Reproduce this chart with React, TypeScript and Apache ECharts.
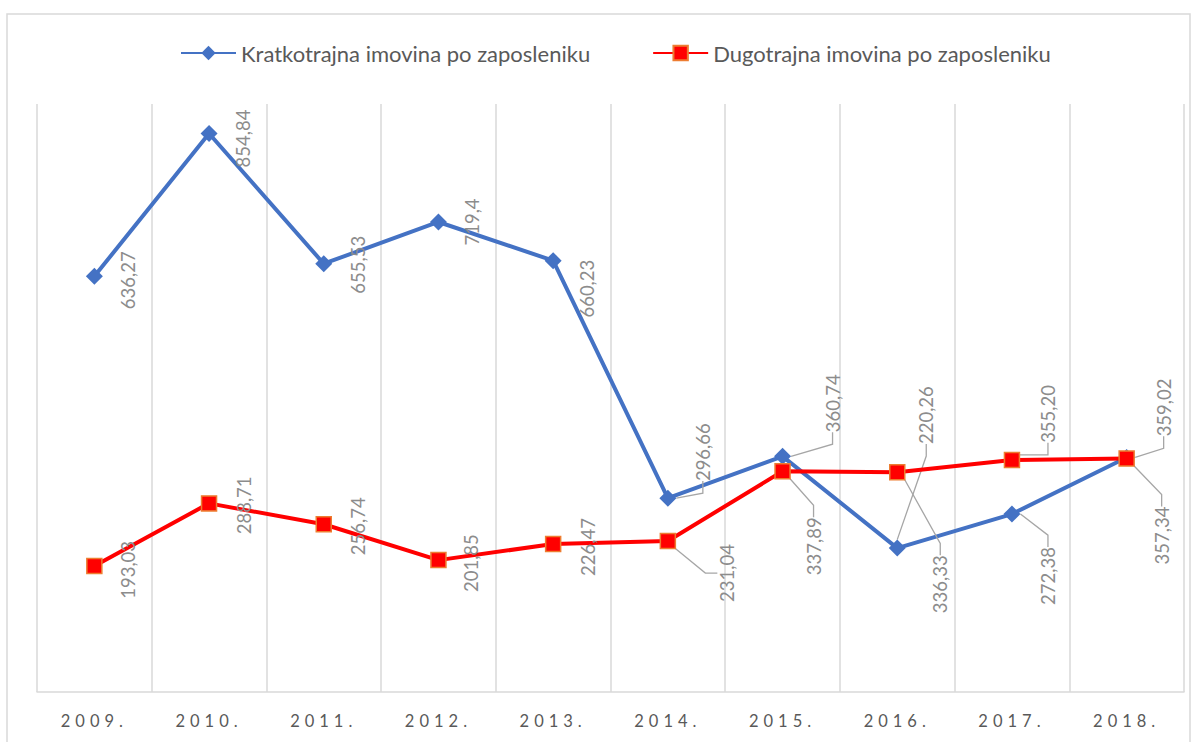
import React, { useEffect, useRef } from 'react';
import * as echarts from 'echarts';

const years = ['2009.', '2010.', '2011.', '2012.', '2013.', '2014.', '2015.', '2016.', '2017.', '2018.'];
const seriesNames = ['Kratkotrajna imovina po zaposleniku', 'Dugotrajna imovina po zaposleniku'];
const shortTermAssets = [636.27, 854.84, 655.53, 719.4, 660.23, 296.66, 360.74, 220.26, 272.38, 359.02];
const longTermAssets = [193.03, 288.71, 256.74, 201.85, 226.47, 231.04, 337.89, 336.33, 355.2, 357.34];

// label placement on screen (px from the point to the label centre) and leader lines
const blueLabelOffsets = [[34, 4], [34, 5], [34, 1], [34, 0], [34, 28], [35, -46], [50, -53], [29, -133], [36, 62], [37, -50]];
const redLabelOffsets = [[34, 4], [35, 2], [34, 2], [33, 3], [35, 3], [59, 32], [31, 75], [43, 112], [36, -46], [35, 77]];
const blueLeader = [false, false, false, false, false, true, true, true, true, true];
const redLeader = [false, false, false, false, false, true, true, true, true, true];

const BLUE = '#4472C4';
const RED = '#FF0000';
const LABEL_GREY = '#8c8c8c';
const GRID_GREY = '#d9d9d9';

const leaderStyle = { color: '#a6a6a6', width: 1.3 };

// the label is rotated 90deg, so its offset is expressed in the rotated frame
const toLayout = (off: number[]) => ({ dx: -off[1], dy: off[0] });

export default function App() {
  const ref = useRef<HTMLDivElement>(null);
  useEffect(() => {
    document.body.style.margin = '0';
    const chart = echarts.init(ref.current!, null, { renderer: 'svg' });
    const labelBase = {
      show: true,
      position: 'inside',
      rotate: 90,
      align: 'center',
      verticalAlign: 'middle',
      color: LABEL_GREY,
      fontSize: 18.5,
      fontFamily: 'Lato',
    };
    chart.setOption({
      animation: false,
      backgroundColor: '#ffffff',
      graphic: [
        {
          type: 'rect',
          shape: { x: 7, y: 14, width: 1183, height: 740 },
          style: { fill: 'none', stroke: GRID_GREY, lineWidth: 1.5 },
          silent: true,
          z: -10,
        },
      ],
      legend: {
        left: 175,
        top: 37,
        itemWidth: 55,
        itemHeight: 18,
        itemGap: 62,
        textStyle: { fontSize: 22, color: '#595959', fontFamily: 'Lato' },
        data: seriesNames,
      },
      grid: { left: 37, right: 14, top: 104, bottom: 50, containLabel: false },
      xAxis: {
        type: 'category',
        data: years,
        boundaryGap: true,
        axisLine: { show: true, lineStyle: { color: GRID_GREY, width: 1.5 } },
        axisTick: { show: false },
        splitLine: { show: true, lineStyle: { color: GRID_GREY, width: 1.5 } },
        axisLabel: { color: '#595959', fontSize: 16.5, fontFamily: 'Lato', margin: 20 },
      },
      yAxis: {
        type: 'value',
        min: 0,
        max: 900,
        show: false,
        splitLine: { show: false },
      },
      series: [
        {
          name: seriesNames[0],
          type: 'line',
          symbol: 'diamond',
          symbolSize: 17,
          lineStyle: { color: BLUE, width: 4 },
          itemStyle: { color: BLUE },
          label: { ...labelBase, formatter: (p: any) => String(p.value).replace('.', ',') },
          labelLayout: (p: any) => toLayout(blueLabelOffsets[p.dataIndex]),
          data: shortTermAssets.map((v, i) => ({
            value: v,
            labelLine: { show: blueLeader[i], length2: 12, lineStyle: leaderStyle },
          })),
          z: 2,
        },
        {
          name: seriesNames[1],
          type: 'line',
          symbol: 'rect',
          symbolSize: 15,
          lineStyle: { color: RED, width: 4 },
          itemStyle: { color: RED, borderColor: '#ED7D31', borderWidth: 1.5 },
          label: { ...labelBase, formatter: (p: any) => Number(p.value).toFixed(2).replace('.', ',') },
          labelLayout: (p: any) => toLayout(redLabelOffsets[p.dataIndex]),
          data: longTermAssets.map((v, i) => ({
            value: v,
            labelLine: { show: redLeader[i], length2: 12, lineStyle: leaderStyle },
          })),
          z: 3,
        },
      ],
    });
    return () => chart.dispose();
  }, []);
  return (
    <>
      <style>{`.chartbox text[style*="16.5px"] { letter-spacing: 5px; }`}</style>
      <div
        ref={ref}
        className="chartbox"
        style={{ position: 'fixed', left: 0, top: 0, width: 1198, height: 742 }}
      />
    </>
  );
}
